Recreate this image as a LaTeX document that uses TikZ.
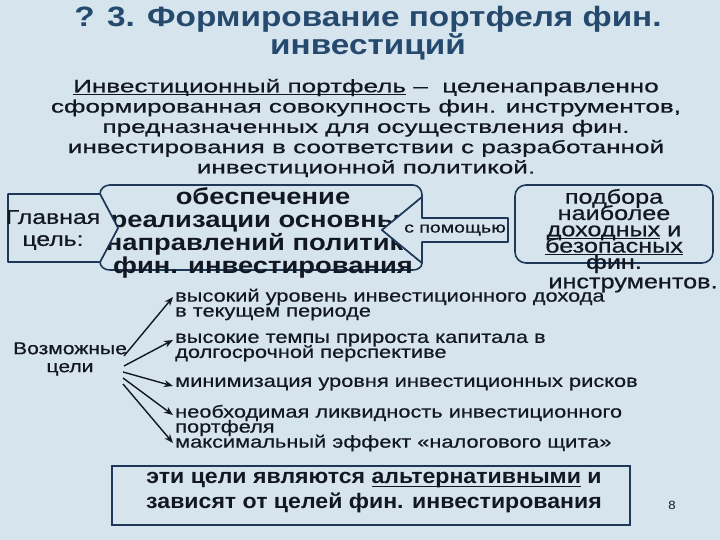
\documentclass[tikz,border=0pt]{standalone}
\usepackage{fontspec}
\setmainfont{Liberation Sans}
\usetikzlibrary{arrows.meta}
\definecolor{bg}{RGB}{214,228,238}
\definecolor{navy}{RGB}{31,56,90}
\definecolor{titleblue}{RGB}{38,74,110}
\definecolor{ink}{RGB}{18,24,34}
\newcommand{\fnt}[3]{\fontsize{#1}{#2}\selectfont\addfontfeatures{FakeStretch=#3}\lineskiplimit=-60pt\relax}
\newcommand{\fntb}[3]{\fontsize{#1}{#2}\selectfont\addfontfeatures{FakeStretch=#3,FakeBold=0.6}\lineskiplimit=-60pt\relax}
\newcommand{\ulx}[1]{\setbox0\hbox{#1}\rlap{\smash{\rule[-2.6pt]{\wd0}{1pt}}}\box0\relax}
\tikzset{
  shapeline/.style={draw=navy, line width=1.6pt, fill=bg, line join=round},
  txt/.style={inner sep=0pt, text=ink, align=center},
  goal/.style={inner sep=0pt, text=ink, align=left, anchor=west, font=\fntb{17.3}{15}{1.26}},
  goalarrow/.style={draw=ink, line width=1.4pt, -{Stealth[length=9pt,width=7pt]}},
}
\begin{document}
\begin{tikzpicture}[x=1pt,y=-1pt]
\fill[bg] (0,0) rectangle (720,540);
\useasboundingbox (0,0) rectangle (720,540);

% title
\node[txt, text=titleblue, font=\bfseries\fnt{28}{28}{1.19}] (title) at (368,33)
  {? 3. Формирование портфеля фин.\\инвестиций};

% definition
\node[txt, font=\fntb{18}{20.3}{1.45}] (def) at (366,128)
  {\ulx{Инвестиционный портфель} –\ \ целенаправленно\\
   сформированная совокупность фин. инструментов,\\
   предназначенных для осуществления фин.\\
   инвестирования в соответствии с разработанной\\
   инвестиционной политикой.};

% middle box with notches
\draw[shapeline] (110,185) -- (413,185) to[out=0,in=90] (422,195) -- (422,197)
  -- (382,230) -- (422,263) to[out=-90,in=0] (413,270) -- (110,270)
  to[out=180,in=-90] (100,262) -- (118,228) -- (100,194) to[out=90,in=180] (110,185) -- cycle;
\node[txt, font=\bfseries\fnt{23}{23}{1.19}] (mid) at (263,232.5)
  {обеспечение\\реализации основных\\направлений политики\\фин. инвестирования};

% left pentagon
\draw[shapeline] (8,194) -- (100,194) -- (118,228) -- (100,262) -- (8,262) -- cycle;
\node[txt, font=\fntb{20}{22}{1.24}] (main) at (53,230) {Главная\\цель:};

% arrow "с помощью"
\draw[shapeline] (508,218) -- (422,218) -- (422,197) -- (382,230) -- (422,263)
  -- (422,242) -- (508,242) -- cycle;
\node[txt, font=\fntb{15}{15}{1.3}] (help) at (455,230) {с помощью};

% right box
\draw[shapeline, rounded corners=11pt] (515,185) rectangle (713,263);
\node[txt, font=\fntb{20}{16.3}{1.26}] (sel) at (614,231)
  {подбора\\наиболее\\\ulx{доходных} и\\\ulx{безопасных}\\фин.};
\node[txt, font=\fntb{20}{16.8}{1.26}] (sel2) at (633,285) {инструментов.};

% possible goals
\node[txt, font=\fntb{17}{18}{1.24}] (poss) at (70,359) {Возможные\\цели};
\node[goal] (g1) at (175,304.5) {высокий уровень инвестиционного дохода\\в текущем периоде};
\node[goal] (g2) at (175,347.5) {высокие темпы прироста капитала в\\долгосрочной перспективе};
\node[goal] (g3) at (175,384) {минимизация уровня инвестиционных рисков};
\node[goal] (g4) at (175,420.5) {необходимая ликвидность инвестиционного\\портфеля};
\node[goal] (g5) at (175,443) {максимальный эффект «налогового щита»};

\coordinate (o1) at (124,356);
\coordinate (o2) at (124,366);
\coordinate (o3) at (123,372);
\coordinate (o4) at (123,378);
\coordinate (o5) at (123,384);
\coordinate (e1) at (173,297);
\coordinate (e2) at (173,340);
\coordinate (e3) at (173,386);
\coordinate (e4) at (173,415);
\coordinate (e5) at (173,443);
\draw[goalarrow] (o1) -- (e1);
\draw[goalarrow] (o2) -- (e2);
\draw[goalarrow] (o3) -- (e3);
\draw[goalarrow] (o4) -- (e4);
\draw[goalarrow] (o5) -- (e5);

% bottom box
\draw[draw=navy, line width=1.6pt] (112,466) rectangle (630,525);
\node[txt, font=\bfseries\fnt{21}{25}{1.1}] (note) at (374,493)
  {эти цели являются \ulx{альтернативными} и\\зависят от целей фин. инвестирования};

\node[txt, font=\fnt{12}{12}{1.1}] (page) at (672,505) {8};
\end{tikzpicture}
\end{document}
